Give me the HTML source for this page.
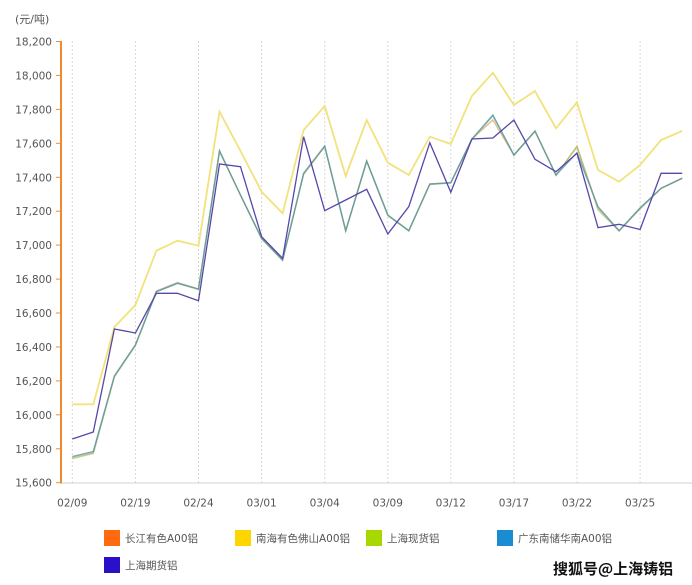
<!DOCTYPE html>
<html><head><meta charset="utf-8"><style>
html,body{margin:0;padding:0;background:#fff;}
svg{display:block;}
text{font-family:"DejaVu Sans","Liberation Sans","Noto Sans CJK SC",sans-serif;}
</style></head><body>
<svg width="692" height="585" viewBox="0 0 692 585" xmlns="http://www.w3.org/2000/svg">
<rect width="692" height="585" fill="#fff"/>
<text x="15" y="23" font-size="11" fill="#555" style="font-family:'DejaVu Sans','Noto Sans CJK SC',sans-serif">(元/吨)</text>
<g stroke="#d8d8d8" stroke-width="1" stroke-dasharray="2,2">
<line x1="72.3" y1="41" x2="72.3" y2="483"/><line x1="135.4" y1="41" x2="135.4" y2="483"/><line x1="198.5" y1="41" x2="198.5" y2="483"/><line x1="261.6" y1="41" x2="261.6" y2="483"/><line x1="324.7" y1="41" x2="324.7" y2="483"/><line x1="387.8" y1="41" x2="387.8" y2="483"/><line x1="450.8" y1="41" x2="450.8" y2="483"/><line x1="513.9" y1="41" x2="513.9" y2="483"/><line x1="577" y1="41" x2="577" y2="483"/><line x1="640.1" y1="41" x2="640.1" y2="483"/>
</g>
<line x1="61" y1="483" x2="692" y2="483" stroke="#d0d0d0" stroke-width="1"/>
<g font-size="10.5" fill="#555" text-anchor="end">
<text x="52" y="45.5">18,200</text><text x="52" y="79.4">18,000</text><text x="52" y="113.4">17,800</text><text x="52" y="147.3">17,600</text><text x="52" y="181.3">17,400</text><text x="52" y="215.2">17,200</text><text x="52" y="249.1">17,000</text><text x="52" y="283.1">16,800</text><text x="52" y="317">16,600</text><text x="52" y="351">16,400</text><text x="52" y="384.9">16,200</text><text x="52" y="418.8">16,000</text><text x="52" y="452.8">15,800</text><text x="52" y="486.7">15,600</text>
</g>
<g stroke="#f08a30" stroke-width="1">
<line x1="56" y1="41.5" x2="61" y2="41.5"/><line x1="56" y1="75.4" x2="61" y2="75.4"/><line x1="56" y1="109.4" x2="61" y2="109.4"/><line x1="56" y1="143.3" x2="61" y2="143.3"/><line x1="56" y1="177.3" x2="61" y2="177.3"/><line x1="56" y1="211.2" x2="61" y2="211.2"/><line x1="56" y1="245.1" x2="61" y2="245.1"/><line x1="56" y1="279.1" x2="61" y2="279.1"/><line x1="56" y1="313" x2="61" y2="313"/><line x1="56" y1="347" x2="61" y2="347"/><line x1="56" y1="380.9" x2="61" y2="380.9"/><line x1="56" y1="414.8" x2="61" y2="414.8"/><line x1="56" y1="448.8" x2="61" y2="448.8"/><line x1="56" y1="482.7" x2="61" y2="482.7"/>
</g>
<line x1="61" y1="41" x2="61" y2="483.5" stroke="#f08a30" stroke-width="2"/>
<g font-size="10.5" fill="#555" text-anchor="middle">
<text x="72.3" y="506.5">02/09</text><text x="135.4" y="506.5">02/19</text><text x="198.5" y="506.5">02/24</text><text x="261.6" y="506.5">03/01</text><text x="324.7" y="506.5">03/04</text><text x="387.8" y="506.5">03/09</text><text x="450.8" y="506.5">03/12</text><text x="513.9" y="506.5">03/17</text><text x="577" y="506.5">03/22</text><text x="640.1" y="506.5">03/25</text>
</g>
<g fill="none" stroke-linejoin="miter">
<polyline stroke="#f2e27c" stroke-width="1.8" points="72.3,404.3 93.3,404.3 114.4,327 135.4,305 156.4,250.7 177.5,240.7 198.5,245.7 219.5,111.7 240.5,151 261.6,191.7 282.6,213.3 303.6,130 324.7,106 345.7,176 366.7,120 387.8,162.7 408.8,175 429.8,136.7 450.8,144 471.9,96 492.9,72.7 513.9,105 535,91 556,128.3 577,102.3 598,170 619.1,181.7 640.1,165 661.1,140 682.2,131"/>
<polyline stroke="#d8a068" stroke-opacity="0.7" stroke-width="1.4" points="72.3,457.5 93.3,452.5 114.4,376 135.4,345 156.4,291 177.5,282.5 198.5,289 219.5,151.5 240.5,195 261.6,238.3 282.6,260 303.6,174 324.7,146.5 345.7,230.7 366.7,161 387.8,215 408.8,230.7 429.8,184 450.8,182.7 471.9,139 492.9,120 513.9,155 535,131 556,175 577,147 598,208 619.1,230.7 640.1,208 661.1,188.3 682.2,178"/>
<polyline stroke="#9cc050" stroke-opacity="0.6" stroke-width="1.4" points="72.3,458.7 93.3,453.5 114.4,377 135.4,345.5 156.4,291.7 177.5,283.3 198.5,289.5 219.5,151 240.5,195.5 261.6,238.8 282.6,260.5 303.6,174.5 324.7,146.5 345.7,231 366.7,161.5 387.8,215.5 408.8,231 429.8,184.5 450.8,183 471.9,139.5 492.9,116 513.9,155.5 535,131.5 556,175.5 577,146 598,210 619.1,231 640.1,209 661.1,188.5 682.2,178.5"/>
<polyline stroke="#4e90b0" stroke-opacity="0.75" stroke-width="1.4" points="72.3,456.5 93.3,451.5 114.4,376 135.4,345 156.4,291.7 177.5,283.3 198.5,289 219.5,150.7 240.5,195 261.6,238.3 282.6,260 303.6,173.3 324.7,146 345.7,230.7 366.7,161 387.8,215 408.8,230.7 429.8,184 450.8,182.7 471.9,139 492.9,115 513.9,155 535,131 556,175 577,152.7 598,206.7 619.1,230.7 640.1,208 661.1,188.3 682.2,178.3"/>
<polyline stroke="#5548a8" stroke-width="1.3" points="72.3,439 93.3,432 114.4,329 135.4,333 156.4,293.3 177.5,293.3 198.5,300.7 219.5,164 240.5,166.7 261.6,236.7 282.6,258.3 303.6,136.7 324.7,210.7 345.7,200 366.7,189.3 387.8,234 408.8,206.7 429.8,142.7 450.8,192.3 471.9,139 492.9,138 513.9,120 535,159.3 556,171.7 577,153.3 598,227.7 619.1,224.3 640.1,229.5 661.1,173.3 682.2,173.3"/>
</g>
<g font-size="10.5" fill="#555" style="font-family:'DejaVu Sans','Noto Sans CJK SC',sans-serif">
<rect x="104" y="530" width="16" height="16" fill="#ff6a10"/><text x="125" y="542">长江有色A00铝</text>
<rect x="235" y="530" width="16" height="16" fill="#ffd500"/><text x="256" y="542">南海有色佛山A00铝</text>
<rect x="366" y="530" width="16" height="16" fill="#a8d800"/><text x="387" y="542">上海现货铝</text>
<rect x="497" y="530" width="16" height="16" fill="#1a8dd2"/><text x="518" y="542">广东南储华南A00铝</text>
<rect x="104" y="557" width="16" height="16" fill="#2a10c8"/><text x="125" y="569">上海期货铝</text>
</g>
<text x="553" y="574" font-size="15" font-weight="bold" fill="#111" stroke="#fff" stroke-width="2.5" paint-order="stroke" style="font-family:'Noto Sans CJK SC','WenQuanYi Zen Hei',sans-serif">搜狐号@上海铸铝</text>
</svg>
</body></html>
